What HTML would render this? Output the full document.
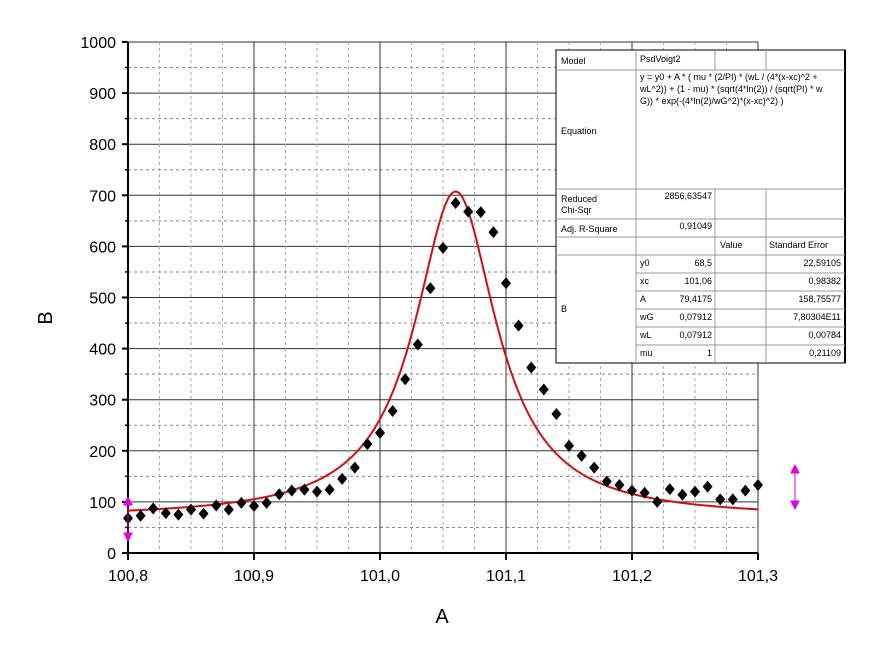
<!DOCTYPE html>
<html><head><meta charset="utf-8"><style>
body{margin:0;background:#fff;}
svg text{font-family:"Liberation Sans",Arial,sans-serif;}
</style></head><body>
<svg width="873" height="649" xmlns="http://www.w3.org/2000/svg">
<g id="grid"></g>
<g id="axes"></g>
<g id="fit"></g>
<g id="pts"></g>
<g id="tbl"></g>
<text x="442" y="623" font-size="20" text-anchor="middle">A</text>
<text x="52" y="318" font-size="20" text-anchor="middle" transform="rotate(-90 52 318)">B</text>
<g stroke="#e000e0" fill="#e000e0"><line x1="128" y1="500" x2="128" y2="538"/><path d="M124,505 L128,497 L132,505Z M124,533 L128,541 L132,533Z"/></g>
<g stroke="#e000e0" fill="#e000e0"><line x1="795" y1="468" x2="795" y2="506"/><path d="M791,473 L795,465 L799,473Z M791,501 L795,509 L799,501Z"/></g>
</svg>
<script>
const xs=[100.80,100.81,100.82,100.83,100.84,100.85,100.86,100.87,100.88,100.89,100.90,100.91,100.92,100.93,100.94,100.95,100.96,100.97,100.98,100.99,101.00,101.01,101.02,101.03,101.04,101.05,101.06,101.07,101.08,101.09,101.10,101.11,101.12,101.13,101.14,101.15,101.16,101.17,101.18,101.19,101.20,101.21,101.22,101.23,101.24,101.25,101.26,101.27,101.28,101.29,101.30];
const ys=[68,73,87,78,75,85,77,93,85,98,92,98,115,122,124,120,124,145,167,213,235,278,340,408,518,597,685,668,667,628,528,445,363,320,272,210,190,167,140,133,122,118,100,125,114,120,130,105,105,122,133];
const xTicks=[100.8,100.9,101.0,101.1,101.2,101.3];
const xTickLabels=["100,8","100,9","101,0","101,1","101,2","101,3"];
const yTicks=[0,100,200,300,400,500,600,700,800,900,1000];
const fitParams=[68.5,101.06,79.4175,0.07912];
const NS="http://www.w3.org/2000/svg";
const L=128,R=758,T=42,B=553;
const X=v=>L+(v-100.8)/0.5*(R-L);
const Y=v=>B-v/1000*(B-T);
function mk(tag,attrs,parent){const e=document.createElementNS(NS,tag);for(const k in attrs)e.setAttribute(k,attrs[k]);parent.appendChild(e);return e;}
const grid=document.getElementById('grid'),axes=document.getElementById('axes');
for(let i=0;i<yTicks.length;i++){const v=yTicks[i];
 let l=mk('line',{x1:L,x2:R,y1:Y(v),y2:Y(v),stroke:'#333','stroke-width':1},grid);
 
 if(i<yTicks.length-1){let d=mk('line',{x1:L,x2:R,y1:Y(v+50),y2:Y(v+50),stroke:'#888','stroke-dasharray':'3,3'},grid);
 }
 let t=mk('text',{x:L-12,y:Y(v)+6,'font-size':16,'text-anchor':'end'},axes);t.textContent=v;
 
 mk('line',{x1:L-6,x2:L,y1:Y(v),y2:Y(v),stroke:'#000','stroke-width':2},axes);
 if(i<yTicks.length-1)mk('line',{x1:L-3,x2:L,y1:Y(v+50),y2:Y(v+50),stroke:'#000','stroke-width':1.5},axes);
}
for(let i=0;i<xTicks.length;i++){const v=xTicks[i];
 let l=mk('line',{x1:X(v),x2:X(v),y1:T,y2:B,stroke:'#333'},grid);
 
 if(i<xTicks.length-1){let d=mk('line',{x1:X(v+0.05),x2:X(v+0.05),y1:T,y2:B,stroke:'#888','stroke-dasharray':'3,3'},grid);
 
 for(let k=1;k<4;k++){let d2=mk('line',{x1:X(v+0.025*k),x2:X(v+0.025*k),y1:T,y2:B,stroke:'#aaa','stroke-dasharray':'3,3'},grid);}}
 let t=mk('text',{x:X(v),y:B+28,'font-size':16,'text-anchor':'middle'},axes);t.textContent=xTickLabels[i];
 
 mk('line',{x1:X(v),x2:X(v),y1:B,y2:B+7,stroke:'#000','stroke-width':2},axes);
}
mk('line',{x1:L,x2:L,y1:T,y2:B+1,stroke:'#000','stroke-width':2},axes);
mk('line',{x1:L-1,x2:R,y1:B,y2:B,stroke:'#000','stroke-width':2},axes);
// fit curve (Lorentzian, mu=1)
const [y0,xc,A,w]=fitParams;let d='';
for(let i=0;i<=500;i++){const x=100.8+i*0.001;const y=y0+A*(2/Math.PI)*(w/(4*(x-xc)**2+w*w));d+=(i?'L':'M')+X(x).toFixed(1)+','+Y(y).toFixed(1);}
const fp=mk('path',{d:d,fill:'none',stroke:'#d01010','stroke-width':2},document.getElementById('fit'));

const pts=document.getElementById('pts');
for(let i=0;i<xs.length;i++){const cx=X(xs[i]),cy=Y(ys[i]);
 const p=mk('path',{d:`M${cx},${cy-6}L${cx+5},${cy}L${cx},${cy+6}L${cx-5},${cy}Z`,fill:'#000'},pts);
 }
// table
const tb=document.getElementById('tbl');
mk('rect',{x:556,y:50,width:289,height:313,fill:'#fff',stroke:'#000','stroke-width':1},tb);
mk('line',{x1:845,x2:845,y1:50,y2:363,stroke:'#000','stroke-width':2},tb);
const hl=[[556,845,70],[556,845,189],[556,845,219],[556,845,237],[556,845,255],[636,845,273],[636,845,291],[636,845,309],[636,845,327],[636,845,345]];
hl.forEach(h=>mk('line',{x1:h[0],x2:h[1],y1:h[2],y2:h[2],stroke:'#999'},tb));
[[636,50,363],[715,50,70],[766,50,70],[715,189,363],[766,189,363]].forEach(v=>mk('line',{x1:v[0],x2:v[0],y1:v[1],y2:v[2],stroke:'#999'},tb));
function tx(x,y,s,anchor){const t=mk('text',{x:x,y:y,'font-size':9,'text-anchor':anchor||'start'},tb);t.textContent=s;}
tx(561,64,'Model');tx(640,62,'PsdVoigt2');
tx(640,80,'y = y0 + A * ( mu * (2/PI) * (wL / (4*(x-xc)^2 +');tx(640,92,'wL^2)) + (1 - mu) * (sqrt(4*ln(2)) / (sqrt(PI) * w');tx(640,104,'G)) * exp(-(4*ln(2)/wG^2)*(x-xc)^2) )');
tx(561,134,'Equation');tx(561,202,'Reduced');tx(561,213,'Chi-Sqr');tx(712,199,'2856,63547','end');
tx(561,232,'Adj. R-Square');tx(712,229,'0,91049','end');tx(720,248,'Value');tx(769,248,'Standard Error');
tx(561,312,'B');
const rows=[['y0','68,5','22,59105'],['xc','101,06','0,98382'],['A','79,4175','158,75577'],['wG','0,07912','7,80304E11'],['wL','0,07912','0,00784'],['mu','1','0,21109']];
rows.forEach((r,i)=>{const y=266+i*18;tx(640,y,r[0]);tx(712,y,r[1],'end');tx(841,y,r[2],'end');});
</script>
</body></html>
